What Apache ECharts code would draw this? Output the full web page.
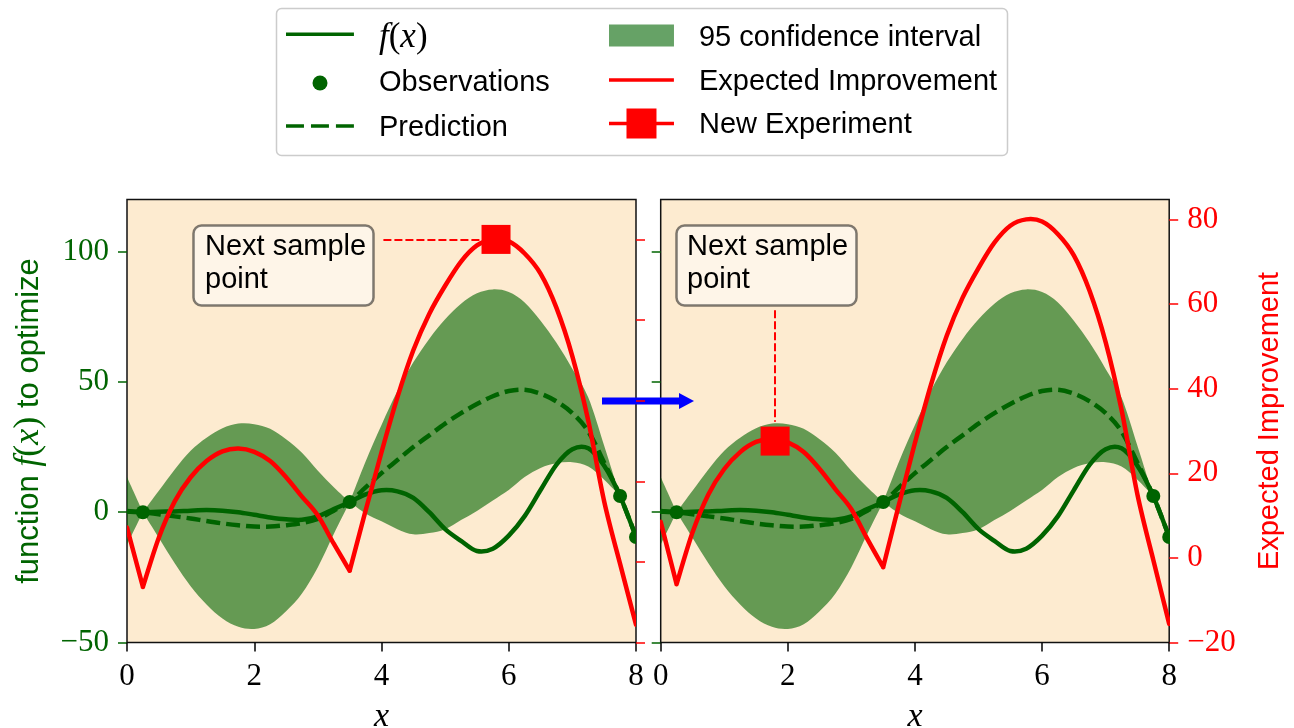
<!DOCTYPE html>
<html>
<head>
<meta charset="utf-8">
<title>Bayesian optimisation step</title>
<script src="https://cdn.jsdelivr.net/npm/echarts@6/dist/echarts.min.js"></script>
<style>
html,body{margin:0;padding:0;background:#ffffff;}
#chart{width:1294px;height:728px;}
</style>
</head>
<body>
<div id="chart"></div>
<script>
// ---------------- data ----------------
const xs = [0,0.25,0.5,0.75,1,1.25,1.5,1.75,2,2.25,2.5,2.75,3,3.25,3.5,3.75,4,4.25,4.5,4.75,5,5.25,5.5,5.75,6,6.25,6.5,6.75,7,7.25,7.5,7.75,8];
const fTrue = [0.2,0,0.2,0.3,0.6,0.8,0.6,0,-1.0,-2.0,-2.7,-2.9,-1.6,1.2,3.9,6.8,8.4,8.0,5.5,0,-6.5,-11,-14.9,-14.0,-9.0,-1.5,8.5,18.3,24.2,24.5,17.8,6.2,-9.5];
const prediction = [0.5,0,-0.8,-1.6,-2.4,-3.4,-4.3,-5.0,-5.5,-5.5,-5.0,-4.2,-2.6,0.6,3.9,9.5,15,20,25,29.5,34,38,41.5,44.5,46.5,47,45.5,42.5,38,31,19,6.2,-9.5];
const ciUpper = [13.5,0,8.2,16.4,23.6,28.6,32.2,34.0,33.8,32.0,28.0,22.8,15.9,9.6,3.9,19.5,33.5,46.5,57.5,66.5,74.0,80.0,84.0,85.5,84.5,80.5,73.5,65.0,55.0,44.0,25.5,6.2,-9.5];
const ciLower = [-12.5,0,-9.8,-19.6,-28.4,-35.4,-40.8,-44.0,-44.8,-43.0,-38.0,-31.2,-21.1,-8.4,3.9,-0.5,-3.5,-6.5,-8.5,-8.0,-6.5,-3.0,0.5,4.5,8.5,13.5,17.0,18.8,19.2,17.5,12.5,6.2,-9.5];
const expImp = [8.5,-6.2,6.0,15.0,21.0,25.0,27.4,28.1,27.3,25.0,21.0,16.2,11.5,4.5,-2.2,12.7,27.2,40.8,52.5,61.5,68.5,74.5,78.5,80.0,79.5,76.5,71.5,63.0,51.0,35.0,15.0,-0.5,-15.6];
const eiKinks = [0.25,3.5,7.75];
const obsX = [0.25,3.5,7.75,8];
const obsY = [0,3.9,6.2,-9.5];
const newExpLeft = [5.8,80];
const newExpRight = [1.8,27.6];
const connectorLeft = [[4.03,80],[5.56,80]];
const connectorRight = [[1.8,58.5],[1.8,32.2]];
const xTicks = [0,2,4,6,8];
const fTicks = [-50,0,50,100];
const eiTicks = [-20,0,20,40,60,80];

// ---------------- styling ----------------
const serif = "'Liberation Serif','DejaVu Serif',serif";
const sans = "'Liberation Sans',Arial,sans-serif";
const green = '#006400';
const red = '#ff0000';
const bandColor = 'rgba(0,100,0,0.6)';
const plotBg = '#fdebd0';
const LW = 4.5;

const fmtNum = v => (v < 0 ? '\u2212' + Math.abs(v) : String(v));

// Catmull-Rom curve through pixel points, as cubic bezier commands
function crPath(pts) {
  let d = '';
  for (let i = 0; i < pts.length - 1; i++) {
    const p0 = pts[Math.max(i - 1, 0)], p1 = pts[i], p2 = pts[i + 1], p3 = pts[Math.min(i + 2, pts.length - 1)];
    const c1 = [p1[0] + (p2[0] - p0[0]) / 6, p1[1] + (p2[1] - p0[1]) / 6];
    const c2 = [p2[0] - (p3[0] - p1[0]) / 6, p2[1] - (p3[1] - p1[1]) / 6];
    d += ' C' + c1[0] + ',' + c1[1] + ' ' + c2[0] + ',' + c2[1] + ' ' + p2[0] + ',' + p2[1];
  }
  return d;
}

function splitAt(breakXs) {
  const cuts = breakXs.map(x => xs.indexOf(x)).filter(i => i > 0 && i < xs.length - 1);
  const out = [];
  let s = 0;
  cuts.forEach(c => { out.push([s, c]); s = c; });
  out.push([s, xs.length - 1]);
  return out;
}

const bandSegs = splitAt(obsX);

function bandRender(params, api) {
  let d = '';
  bandSegs.forEach(([a, b]) => {
    const up = [], lo = [];
    for (let i = a; i <= b; i++) {
      up.push(api.coord([xs[i], ciUpper[i]]));
      lo.push(api.coord([xs[i], ciLower[i]]));
    }
    lo.reverse();
    d += 'M' + up[0][0] + ',' + up[0][1] + crPath(up) + ' L' + lo[0][0] + ',' + lo[0][1] + crPath(lo) + ' Z ';
  });
  return { type: 'path', shape: { pathData: d }, style: { fill: bandColor, stroke: 'none' } };
}

function curveRender(ys, kinks, color, dash) {
  const segsC = splitAt(kinks || []);
  return function (params, api) {
    let d = '';
    segsC.forEach(([a, b]) => {
      const pts = [];
      for (let i = a; i <= b; i++) pts.push(api.coord([xs[i], ys[i]]));
      d += 'M' + pts[0][0] + ',' + pts[0][1] + crPath(pts) + ' ';
    });
    return {
      type: 'path', shape: { pathData: d },
      style: { fill: 'none', stroke: color, lineWidth: LW, lineDash: dash || null, lineJoin: 'round', lineCap: dash ? 'butt' : 'round' }
    };
  };
}

function obsRender(params, api) {
  const c = api.coord([api.value(0), api.value(1)]);
  return { type: 'circle', shape: { cx: c[0], cy: c[1], r: 7 }, style: { fill: green } };
}

const series = [];
[0, 1].forEach(p => {
  const fAx = p === 0 ? 0 : 2;
  const eiAx = p === 0 ? 1 : 3;
  series.push({
    type: 'custom', name: '95 confidence interval', xAxisIndex: p, yAxisIndex: fAx,
    z: 1, clip: true, silent: true, itemStyle: { color: bandColor },
    data: [[xs[0], ciUpper[0]]], encode: { x: 0, y: 1 }, renderItem: bandRender
  });
  series.push({
    type: 'custom', name: 'f(x)', xAxisIndex: p, yAxisIndex: fAx, z: 2,
    clip: true, silent: true, itemStyle: { color: green },
    data: [[xs[0], fTrue[0]]], encode: { x: 0, y: 1 }, renderItem: curveRender(fTrue, null, green)
  });
  series.push({
    type: 'custom', name: 'Prediction', xAxisIndex: p, yAxisIndex: fAx, z: 3,
    clip: true, silent: true, itemStyle: { color: green },
    data: [[xs[0], prediction[0]]], encode: { x: 0, y: 1 }, renderItem: curveRender(prediction, null, green, [14, 6])
  });
  series.push({
    type: 'custom', name: 'Observations', xAxisIndex: p, yAxisIndex: fAx, z: 4,
    clip: true, silent: true, itemStyle: { color: green },
    data: obsX.map((x, i) => [x, obsY[i]]), encode: { x: 0, y: 1 }, renderItem: obsRender
  });
  series.push({
    type: 'custom', name: 'Expected Improvement', xAxisIndex: p, yAxisIndex: eiAx, z: 5,
    clip: true, silent: true, itemStyle: { color: red },
    data: [[xs[0], expImp[0]]], encode: { x: 0, y: 1 }, renderItem: curveRender(expImp, eiKinks, red)
  });
  const conn = p === 0 ? connectorLeft : connectorRight;
  series.push({
    type: 'line', name: 'New Experiment', xAxisIndex: p, yAxisIndex: eiAx, z: 6,
    data: [p === 0 ? newExpLeft : newExpRight], symbol: 'rect', symbolSize: 29, silent: true,
    lineStyle: { color: red, width: LW }, itemStyle: { color: red },
    markLine: {
      silent: true, symbol: ['none', 'none'], animation: false, label: { show: false },
      lineStyle: { color: red, width: 2, type: [8, 3] },
      emphasis: { disabled: true },
      data: [[{ coord: conn[0] }, { coord: conn[1] }]]
    }
  });
});

const legendText = (padLeft) => ({ fontFamily: sans, fontSize: 29, color: '#000', padding: [0, 0, 0, padLeft] });
const mathRich = {
  m: { fontFamily: serif, fontStyle: 'italic', fontSize: 35, color: '#000' },
  p: { fontFamily: serif, fontSize: 35, color: '#000' }
};
const legendBase = { orient: 'horizontal', padding: 0, itemGap: 0, selectedMode: false, z: 10 };
// a tiny invisible dot in the icon path shifts the handle relative to the text centre
const tick = y => ' M0,' + y + 'h0.01v0.01h-0.01z';

const yBase = { type: 'value', axisLine: { show: false, onZero: false }, splitLine: { show: false } };

const option = {
  animation: false,
  backgroundColor: '#ffffff',
  textStyle: { fontFamily: sans },
  grid: [
    { left: 127, top: 199.5, width: 509, height: 443, show: true, backgroundColor: plotBg, borderColor: '#111', borderWidth: 1.5, containLabel: false, outerBoundsMode: 'none' },
    { left: 660.7, top: 199.5, width: 508.5, height: 443, show: true, backgroundColor: plotBg, borderColor: '#111', borderWidth: 1.5, containLabel: false, outerBoundsMode: 'none' }
  ],
  xAxis: [0, 1].map(i => ({
    type: 'value', gridIndex: i, min: 0, max: 8, interval: 2, position: 'bottom',
    axisLine: { show: false, onZero: false }, splitLine: { show: false },
    axisTick: { show: true, length: 9, lineStyle: { color: '#000', width: 1.5 }, customValues: xTicks },
    axisLabel: { customValues: xTicks, fontFamily: serif, fontSize: 31, color: '#000', margin: 19, formatter: fmtNum },
    name: 'x', nameLocation: 'middle', nameGap: 58, nameMoveOverlap: false,
    nameTextStyle: { fontFamily: serif, fontStyle: 'italic', fontSize: 34, color: '#000' }
  })),
  yAxis: [
    Object.assign({}, yBase, {
      gridIndex: 0, position: 'left', min: -50, max: 120,
      axisTick: { show: true, length: 9, lineStyle: { color: green, width: 1.5 }, customValues: fTicks },
      axisLabel: { customValues: fTicks, fontFamily: serif, fontSize: 31, color: green, margin: 18, formatter: fmtNum },
      name: 'function {m|f}{p|(}{m|x}{p|)} to optimize', nameLocation: 'middle', nameGap: 80, nameMoveOverlap: false,
      nameTextStyle: {
        fontFamily: sans, fontSize: 31, color: green,
        rich: {
          m: { fontFamily: serif, fontStyle: 'italic', fontSize: 36, color: green },
          p: { fontFamily: serif, fontSize: 36, color: green }
        }
      }
    }),
    Object.assign({}, yBase, {
      gridIndex: 0, position: 'right', min: -20, max: 89.9, z: 3,
      axisTick: { show: true, length: 9, lineStyle: { color: red, width: 1.5 }, customValues: eiTicks },
      axisLabel: { show: false }
    }),
    Object.assign({}, yBase, {
      gridIndex: 1, position: 'left', min: -50, max: 120,
      axisTick: { show: true, length: 9, lineStyle: { color: green, width: 1.5 }, customValues: fTicks },
      axisLabel: { show: false }
    }),
    Object.assign({}, yBase, {
      gridIndex: 1, position: 'right', min: -20, max: 84.7,
      axisTick: { show: true, length: 9, lineStyle: { color: red, width: 1.5 }, customValues: eiTicks },
      axisLabel: { customValues: eiTicks, fontFamily: serif, fontSize: 31, color: red, margin: 18, formatter: fmtNum },
      name: 'Expected Improvement', nameLocation: 'middle', nameGap: 86, nameMoveOverlap: false,
      nameTextStyle: { fontFamily: sans, fontSize: 29, color: red }
    })
  ],
  legend: [
    Object.assign({}, legendBase, {
      left: 286, top: 20.5, itemWidth: 68, itemHeight: 11,
      data: [{ name: 'f(x)', icon: 'path://M0,0h68v3.5h-68z' + tick(11) }],
      formatter: () => '{m|f}{p|(}{m|x}{p|)}',
      textStyle: Object.assign(legendText(20), { rich: mathRich })
    }),
    Object.assign({}, legendBase, {
      left: 312.5, top: 68.5, itemWidth: 15, itemHeight: 15,
      data: [{ name: 'Observations', icon: 'circle' }], textStyle: legendText(46.5)
    }),
    Object.assign({}, legendBase, {
      left: 286, top: 113.5, itemWidth: 68, itemHeight: 7.5,
      data: [{ name: 'Prediction', icon: 'path://M0,0h18v3.5h-18z M25,0h18v3.5h-18z M50,0h18v3.5h-18z' + tick(7.5) }],
      textStyle: legendText(20)
    }),
    Object.assign({}, legendBase, {
      left: 609, top: 23.5, itemWidth: 65, itemHeight: 27,
      data: [{ name: '95 confidence interval', icon: 'path://M0,0h65v22h-65z' + tick(27) }],
      textStyle: legendText(20)
    }),
    Object.assign({}, legendBase, {
      left: 609, top: 67.5, itemWidth: 65, itemHeight: 7.5,
      data: [{ name: 'Expected Improvement', icon: 'path://M0,0h65v3.5h-65z' + tick(7.5) }],
      textStyle: legendText(20)
    }),
    Object.assign({}, legendBase, {
      left: 609, top: 108.5, itemWidth: 65, itemHeight: 33,
      data: [{ name: 'New Experiment', icon: 'path://M0,13.25h65v3.5h-65z M17.5,0h30v30h-30z' + tick(33) }],
      textStyle: legendText(20)
    })
  ],
  graphic: [
    { type: 'rect', z: 1, silent: true, shape: { x: 276.5, y: 8.5, width: 731, height: 147, r: 5 },
      style: { fill: '#ffffff', stroke: '#cccccc', lineWidth: 1.5 } },
    { type: 'rect', z: 6, silent: true, shape: { x: 193.5, y: 225.5, width: 180, height: 80, r: 8 },
      style: { fill: 'rgba(255,255,255,0.5)', stroke: 'rgba(0,0,0,0.5)', lineWidth: 2.5 } },
    { type: 'text', z: 7, silent: true, x: 205, y: 230,
      style: { text: 'Next sample\npoint', font: '29px ' + sans, fill: '#000', lineHeight: 33, verticalAlign: 'top' } },
    { type: 'rect', z: 6, silent: true, shape: { x: 676.5, y: 225.5, width: 180, height: 80, r: 8 },
      style: { fill: 'rgba(255,255,255,0.5)', stroke: 'rgba(0,0,0,0.5)', lineWidth: 2.5 } },
    { type: 'text', z: 7, silent: true, x: 687, y: 230,
      style: { text: 'Next sample\npoint', font: '29px ' + sans, fill: '#000', lineHeight: 33, verticalAlign: 'top' } },
    { type: 'polygon', z: 1, silent: true,
      shape: { points: [[602, 397.5], [679, 397.5], [679, 393], [694, 401], [679, 409], [679, 404.5], [602, 404.5]] },
      style: { fill: '#0000ff' } }
  ],
  series: series
};

const chart = echarts.init(document.getElementById('chart'), null, { renderer: 'canvas' });
chart.setOption(option);
</script>
</body>
</html>
